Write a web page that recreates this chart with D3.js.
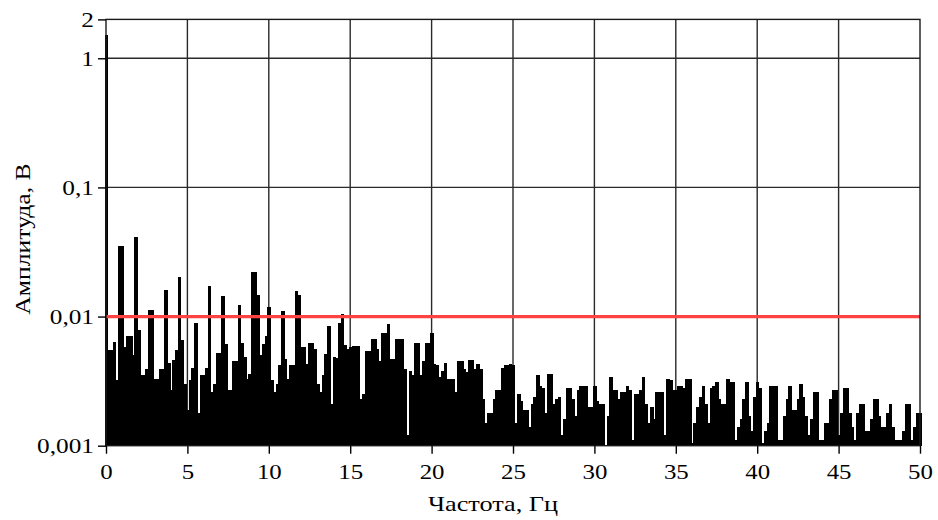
<!DOCTYPE html>
<html>
<head>
<meta charset="utf-8">
<script src="https://cdn.jsdelivr.net/npm/d3@7/dist/d3.min.js"></script>
<style>
  html, body { margin: 0; padding: 0; background: #fff; }
  svg { display: block; }
  text { font-family: "Liberation Serif", "Times New Roman", serif; fill: #000; }
</style>
</head>
<body>
<svg id="chart" width="938" height="520"></svg>
<script>
// ---- data ----
const binWidthHz = 1 / 6;           // spectral resolution, Hz
const amplitude = [
  1.52, 0.0055, 0.0055, 0.0064, 0.0032, 0.035, 0.035, 0.0058, 0.0071, 0.0071,
  0.0050, 0.041, 0.0079, 0.0035, 0.0035, 0.0039, 0.0113, 0.0113, 0.0033, 0.0033,
  0.0039, 0.0039, 0.0161, 0.0044, 0.0027, 0.0046, 0.0055, 0.0203, 0.0066, 0.0030,
  0.0019, 0.0032, 0.0040, 0.0089, 0.0018, 0.0035, 0.0035, 0.0040, 0.0173, 0.0026,
  0.0030, 0.0052, 0.0052, 0.0145, 0.0061, 0.0027, 0.0027, 0.0045, 0.0045, 0.0123,
  0.0062, 0.0049, 0.0033, 0.0036, 0.0223, 0.0223, 0.0148, 0.0050, 0.0061, 0.0071,
  0.0119, 0.0032, 0.0026, 0.0030, 0.0042, 0.0110, 0.0047, 0.0033, 0.0042, 0.0042,
  0.0157, 0.0148, 0.0058, 0.0058, 0.0043, 0.0062, 0.0062, 0.0056, 0.0030, 0.0026,
  0.0035, 0.0051, 0.0084, 0.0021, 0.0049, 0.0048, 0.0089, 0.0104, 0.0060, 0.0056,
  0.0058, 0.0059, 0.0059, 0.0059, 0.0023, 0.0025, 0.0054, 0.0054, 0.0067, 0.0067,
  0.0056, 0.0045, 0.0074, 0.0074, 0.0087, 0.0047, 0.0047, 0.0067, 0.0067, 0.0067,
  0.0039, 0.0012, 0.0038, 0.0035, 0.0062, 0.0062, 0.0035, 0.0045, 0.0062, 0.0062,
  0.0074, 0.0043, 0.0042, 0.0034, 0.0038, 0.0044, 0.0033, 0.0033, 0.0033, 0.0026,
  0.0045, 0.0045, 0.0039, 0.0037, 0.0046, 0.0046, 0.0039, 0.0043, 0.0039, 0.0023,
  0.0015, 0.0018, 0.0018, 0.0023, 0.0027, 0.0027, 0.0040, 0.0042, 0.0042, 0.0043,
  0.0042, 0.0015, 0.0025, 0.0022, 0.0019, 0.0019, 0.0014, 0.0021, 0.0024, 0.0035,
  0.0029, 0.0028, 0.0018, 0.0036, 0.0036, 0.0021, 0.0023, 0.0024, 0.0012, 0.0016,
  0.0028, 0.0028, 0.0023, 0.0017, 0.0027, 0.0029, 0.0029, 0.0029, 0.0020, 0.0020,
  0.0029, 0.0022, 0.0021, 0.0021, 0.0010, 0.0017, 0.0034, 0.0027, 0.0027, 0.0023,
  0.0026, 0.0026, 0.0029, 0.0027, 0.0011, 0.0025, 0.0025, 0.0027, 0.0034, 0.0021,
  0.0015, 0.0020, 0.0016, 0.0026, 0.0026, 0.0026, 0.0012, 0.0033, 0.0032, 0.0027,
  0.0027, 0.0029, 0.0029, 0.0028, 0.0033, 0.0033, 0.00105, 0.0015, 0.0020, 0.0024,
  0.0029, 0.0021, 0.0015, 0.0028, 0.0029, 0.0031, 0.0023, 0.0021, 0.0021, 0.0033,
  0.0031, 0.0031, 0.0011, 0.0014, 0.0016, 0.0023, 0.0031, 0.0017, 0.0013, 0.0024,
  0.0031, 0.0028, 0.00105, 0.0013, 0.0015, 0.0029, 0.0029, 0.0029, 0.0011, 0.0011,
  0.0017, 0.0023, 0.0029, 0.0019, 0.0019, 0.0023, 0.0030, 0.0024, 0.0017, 0.0012,
  0.0016, 0.0026, 0.0026, 0.0011, 0.0011, 0.0015, 0.0015, 0.0023, 0.0027, 0.0027,
  0.0012, 0.0018, 0.0028, 0.0028, 0.0018, 0.0014, 0.0011, 0.0018, 0.0021, 0.0021,
  0.0013, 0.0013, 0.0016, 0.0023, 0.0023, 0.0017, 0.0014, 0.0014, 0.0018, 0.0021,
  0.0014, 0.0011, 0.0011, 0.0011, 0.0013, 0.0021, 0.0021, 0.0011, 0.0014, 0.0018,
  0.0018
];
const thresholdValue = 0.01;
const xTickValues = [0, 5, 10, 15, 20, 25, 30, 35, 40, 45, 50];
const xTickLabels = ["0", "5", "10", "15", "20", "25", "30", "35", "40", "45", "50"];
const yTickValues = [0.001, 0.01, 0.1, 1, 2];
const yTickLabels = ["0,001", "0,01", "0,1", "1", "2"];
const xGridValues = [5, 10, 15, 20, 25, 30, 35, 40, 45];
const yGridValues = [0.1, 1];
const xTitle = "Частота, Гц";
const yTitle = "Амплитуда, В";

// ---- layout ----
const svg = d3.select("#chart");
const plot = { left: 106, right: 920, top: 19.4, bottom: 445.7 };

const x = d3.scaleLinear().domain([0, 50]).range([plot.left, plot.right]);
const y = d3.scaleLog().domain([0.001, 2]).range([plot.bottom, plot.top]);

svg.append("rect").attr("width", 938).attr("height", 520).attr("fill", "#fff");

// grid
const grid = svg.append("g").attr("stroke", "#2a2a2a").attr("stroke-width", 1.4);
grid.selectAll("line.vx").data(xGridValues).enter().append("line")
  .attr("x1", d => x(d)).attr("x2", d => x(d))
  .attr("y1", plot.top).attr("y2", plot.bottom);
grid.selectAll("line.hy").data(yGridValues).enter().append("line")
  .attr("x1", plot.left).attr("x2", plot.right)
  .attr("y1", d => y(d)).attr("y2", d => y(d));

// bars
const data = amplitude.map((v, i) => ({ f: i * binWidthHz, v }));
const bw = x(binWidthHz) - x(0);
svg.append("g").attr("shape-rendering", "crispEdges")
  .selectAll("rect").data(data).enter().append("rect")
  .attr("x", d => x(d.f) - bw / 2)
  .attr("width", bw + 0.8)
  .attr("y", d => y(d.v))
  .attr("height", d => y(0.001) - y(d.v))
  .attr("fill", "#000");

// threshold line
svg.append("line")
  .attr("x1", x(0)).attr("x2", x(50))
  .attr("y1", y(thresholdValue)).attr("y2", y(thresholdValue))
  .attr("stroke", "#ff4343").attr("stroke-width", 3.2);

// frame
svg.append("rect")
  .attr("x", plot.left).attr("y", plot.top)
  .attr("width", plot.right - plot.left).attr("height", plot.bottom - plot.top)
  .attr("fill", "none").attr("stroke", "#1a1a1a").attr("stroke-width", 1.4);

// helper: widen glyphs horizontally (reference font is wide)
function stretch(sel, factor) {
  sel.each(function () {
    const w = this.getComputedTextLength();
    d3.select(this).attr("textLength", w * factor).attr("lengthAdjust", "spacingAndGlyphs");
  });
}

// axes
const xAxis = d3.axisBottom(x).tickValues(xTickValues)
  .tickFormat((d, i) => xTickLabels[i]).tickSize(8).tickPadding(10);
const gx = svg.append("g").attr("transform", `translate(0,${plot.bottom})`).call(xAxis);
gx.select(".domain").remove();
gx.selectAll(".tick line").attr("stroke", "#000").attr("stroke-width", 1.4);
gx.selectAll(".tick text").attr("font-size", 22).attr("font-family", "Liberation Serif, serif").attr("fill", "#000");
stretch(gx.selectAll(".tick text"), 1.13);

const yAxis = d3.axisLeft(y).tickValues(yTickValues)
  .tickFormat((d, i) => yTickLabels[i]).tickSize(8).tickPadding(4);
const gy = svg.append("g").attr("transform", `translate(${plot.left},0)`).call(yAxis);
gy.select(".domain").remove();
gy.selectAll(".tick line").attr("stroke", "#000").attr("stroke-width", 1.4);
gy.selectAll(".tick text").attr("font-size", 22).attr("font-family", "Liberation Serif, serif").attr("fill", "#000");
stretch(gy.selectAll(".tick text"), 1.15);

// titles
const tx = svg.append("text")
  .attr("x", 493).attr("y", 511)
  .attr("text-anchor", "middle").attr("font-size", 21)
  .text(xTitle);
stretch(tx, 1.25);
const ty = svg.append("text")
  .attr("transform", "translate(30,239) rotate(-90)")
  .attr("text-anchor", "middle").attr("font-size", 21)
  .text(yTitle);
stretch(ty, 1.22);
</script>
</body>
</html>
